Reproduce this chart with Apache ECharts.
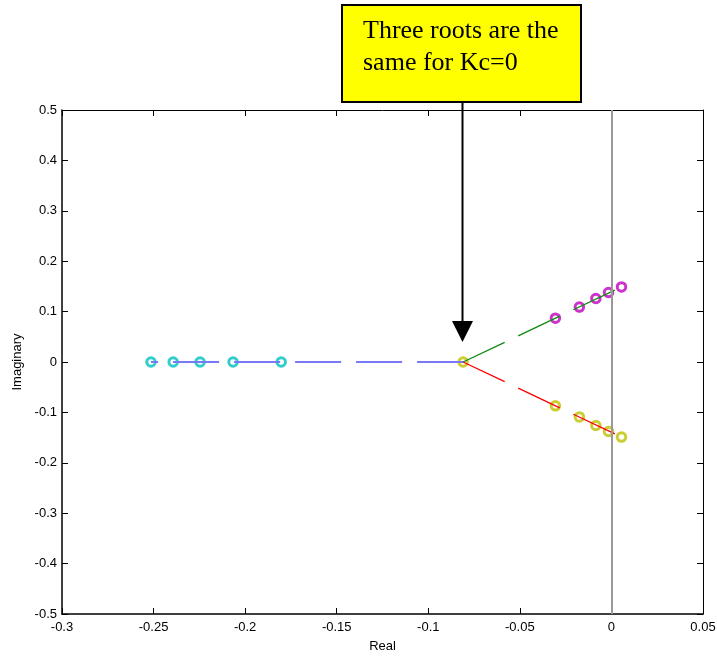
<!DOCTYPE html>
<html><head><meta charset="utf-8">
<script src="https://cdn.jsdelivr.net/npm/echarts@6/dist/echarts.min.js"></script>
<style>html,body{margin:0;padding:0;background:#fff}#c{width:717px;height:656px}</style>
</head><body><div id="c"></div>
<script>
// Axis ticks
const xTicks = {min: -0.3, max: 0.05, interval: 0.05};
const yTicks = {min: -0.5, max: 0.5, interval: 0.1};
// Closed-loop poles (markers)
const cyanX = [-0.2514, -0.2393, -0.2246, -0.2066, -0.1803];
const cyanY = [0, 0, 0, 0, 0];
const purpleX = [-0.0306, -0.0175, -0.0085, -0.0016, 0.0055];
const purpleY = [0.087, 0.109, 0.126, 0.138, 0.149];
const yellowX = [-0.081, -0.0306, -0.0175, -0.0085, -0.0016, 0.0055];
const yellowY = [0, -0.087, -0.109, -0.126, -0.138, -0.149];
// Root locus branches (start at the triple root)
const blueX = [-0.081, -0.2514];
const blueY = [0, 0];
const greenX = [-0.081, 0.0055];
const greenY = [0, 0.149];
const redX = [-0.081, 0.0055];
const redY = [0, -0.149];
const imagAxisX = 0;
const annotation = ['Three roots are the', 'same for Kc=0'];

const zip = (a, b) => a.map((v, i) => [v, b[i]]);
const chart = echarts.init(document.getElementById('c'));
const font = 'Liberation Sans, Arial, sans-serif';
const axisCommon = {
  type: 'value', splitLine: {show: false},
  axisLine: {show: true, onZero: false, lineStyle: {color: '#000', width: 1.5}},
  axisTick: {show: true, inside: true, length: 6, lineStyle: {color: '#000', width: 1}},
};
const ring = (c) => ({color: 'rgba(255,255,255,0)', borderColor: c, borderWidth: 3});
chart.setOption({
  animation: false,
  grid: {left: 62, right: 14, top: 110, bottom: 42, containLabel: false, outerBoundsMode: 'none'},
  xAxis: [
    Object.assign({}, axisCommon, xTicks, {position: 'bottom', name: 'Real', nameLocation: 'middle', nameGap: 26,
      nameTextStyle: {color: '#000', fontSize: 13, fontFamily: font},
      axisLabel: {color: '#000', fontSize: 13, fontFamily: font, margin: 7}}),
    Object.assign({}, axisCommon, xTicks, {position: 'top', axisLabel: {show: false},
      axisLine: {show: true, onZero: false, lineStyle: {color: '#000', width: 1}}})
  ],
  yAxis: [
    Object.assign({}, axisCommon, yTicks, {position: 'left', name: 'Imaginary', nameLocation: 'middle', nameGap: 36,
      nameTextStyle: {color: '#000', fontSize: 13, fontFamily: font},
      axisLabel: {color: '#000', fontSize: 13, fontFamily: font, margin: 5}}),
    Object.assign({}, axisCommon, yTicks, {position: 'right', axisLabel: {show: false},
      axisLine: {show: true, onZero: false, lineStyle: {color: '#000', width: 1}}})
  ],
  series: [
    {type: 'line', data: [], z: 1, markLine: {silent: true, symbol: 'none', label: {show: false},
      lineStyle: {color: '#999', width: 2, type: 'solid'}, data: [{xAxis: imagAxisX}]}},
    {type: 'scatter', data: zip(cyanX, cyanY), symbol: 'circle', symbolSize: 8.5, z: 2, itemStyle: ring('#00bfbf')},
    {type: 'scatter', data: zip(purpleX, purpleY), symbol: 'circle', symbolSize: 8.5, z: 2, itemStyle: ring('#bf00bf')},
    {type: 'scatter', data: zip(yellowX, yellowY), symbol: 'circle', symbolSize: 8.5, z: 2, itemStyle: ring('#bfbf00')},
    {type: 'line', data: zip(blueX, blueY), showSymbol: false, z: 3,
      lineStyle: {color: '#7878f8', width: 2, type: [46, 15]}},
    {type: 'line', data: zip(greenX, greenY), showSymbol: false, z: 3,
      lineStyle: {color: '#108a10', width: 1.3, type: [46, 15]}},
    {type: 'line', data: zip(redX, redY), showSymbol: false, z: 3,
      lineStyle: {color: '#ff0000', width: 1.3, type: [46, 15]}}
  ]
});
const p = chart.convertToPixel({xAxisIndex: 0, yAxisIndex: 0}, [blueX[0], blueY[0]]);
const ax = Math.round(p[0]) - 0.5;
chart.setOption({
  graphic: [
    {type: 'rect', shape: {x: 342, y: 5, width: 239, height: 97}, z: 10,
      style: {fill: '#ffff00', stroke: '#000', lineWidth: 2}},
    {type: 'text', x: 363, y: 15, z: 11,
      style: {text: annotation.join('\n'), font: '26px "Liberation Serif", "Times New Roman", serif', lineHeight: 32, fill: '#000'}},
    {type: 'line', shape: {x1: ax, y1: 103, x2: ax, y2: p[1] - 40}, z: 10,
      style: {stroke: '#000', lineWidth: 2}},
    {type: 'polygon', shape: {points: [[ax - 10.5, p[1] - 41], [ax + 10.5, p[1] - 41], [ax, p[1] - 20]]}, z: 10,
      style: {fill: '#000'}}
  ]
});
</script></body></html>
